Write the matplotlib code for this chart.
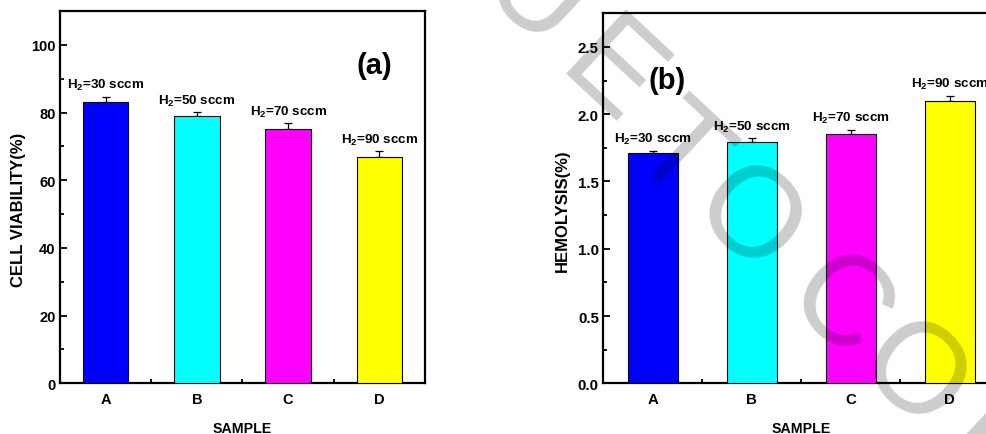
import matplotlib
matplotlib.use("Agg")
import matplotlib.pyplot as plt
from matplotlib.ticker import FixedLocator, MultipleLocator

# ---------------- data ----------------
samples = ["A", "B", "C", "D"]
h2_flow = [30, 50, 70, 90]
viability = [83.0, 79.0, 75.0, 67.0]
viability_err = [1.6, 1.1, 1.8, 1.5]
hemolysis = [1.71, 1.79, 1.85, 2.10]
hemolysis_err = [0.02, 0.03, 0.035, 0.035]
bar_colors = ["#0000FF", "#00FFFF", "#FF00FF", "#FFFF00"]
watermark_letters = ["U", "E", "T", "O", "C", "O", "P"]

# ---------------- fonts ----------------
FONT = "Liberation Sans"
plt.rcParams["font.family"] = [FONT, "DejaVu Sans"]
plt.rcParams["font.weight"] = "bold"
plt.rcParams["mathtext.fontset"] = "custom"
for s in ("rm", "it", "bf", "sf"):
    plt.rcParams["mathtext." + s] = FONT + ":bold"

W, H = 987, 435
fig = plt.figure(figsize=(W / 100, H / 100), dpi=100)
fig.patch.set_facecolor("white")


def make_panel(rect, values, errs, ylim, ymajor, yminor, ylabel, ylabel_xy,
               tag, tag_xy, ann_size, tick_size):
    ax = fig.add_axes(rect)
    x = list(range(1, len(samples) + 1))
    lower = [0] * len(values)
    ax.errorbar(x, values, yerr=[lower, errs], fmt="none", ecolor="black",
                elinewidth=0.9, capsize=2.6, capthick=0.9, zorder=2)
    ax.bar(x, values, width=0.5, color=bar_colors, edgecolor="black",
           linewidth=0.8, zorder=3)
    for xi, v, e, f in zip(x, values, errs, h2_flow):
        ax.annotate("H$_2$=%d sccm" % f, xy=(xi, v + e), xytext=(0, 6.3),
                    textcoords="offset points", ha="center", va="baseline",
                    fontsize=ann_size, fontweight="bold", zorder=4)
    ax.set_xlim(0.5, 4.5)
    ax.set_ylim(*ylim)
    ax.set_xticks(x)
    ax.set_xticklabels(samples)
    ax.xaxis.set_minor_locator(FixedLocator([1.5, 2.5, 3.5, 4.5]))
    ax.yaxis.set_major_locator(MultipleLocator(ymajor))
    ax.yaxis.set_minor_locator(MultipleLocator(yminor))
    ax.tick_params(axis="both", which="both", direction="in",
                   top=False, right=False, width=1.3)
    ax.tick_params(axis="both", which="major", length=5)
    ax.tick_params(axis="both", which="minor", length=3)
    ax.tick_params(axis="x", which="major", pad=6.0, labelsize=tick_size)
    ax.tick_params(axis="y", which="major", pad=3.2, labelsize=tick_size)
    for lab in ax.get_xticklabels() + ax.get_yticklabels():
        lab.set_fontweight("bold")
    for sp in ax.spines.values():
        sp.set_linewidth(1.6)
    ax.set_xlabel("SAMPLE", fontsize=10.2, fontweight="bold")
    ax.xaxis.set_label_coords(0.5, -44.5 / (rect[3] * H))
    ax.xaxis.label.set_va("center")
    ax.set_ylabel(ylabel, fontsize=12, fontweight="bold")
    ax.yaxis.set_label_coords(*ylabel_xy)
    ax.yaxis.label.set_va("center")
    ax.text(tag_xy[0], tag_xy[1], tag, transform=ax.transAxes,
            ha="center", va="center", fontsize=21, fontweight="bold")
    return ax


ax1 = make_panel([60 / W, 1 - 384.3 / H, 365 / W, 372.3 / H],
                 viability, viability_err, (0, 110), 20, 10,
                 "CELL VIABILITY(%)", (-0.114, 0.468),
                 "(a)", (0.862, 0.855), 9.6, 10.5)
ax2 = make_panel([603.3 / W, 1 - 384.3 / H, 396 / W, 370 / H],
                 hemolysis, hemolysis_err, (0, 2.75), 0.5, 0.25,
                 "HEMOLYSIS(%)", (-0.103, 0.468),
                 "(b)", (0.161, 0.819), 9.7, 10.8)
ax2.yaxis.set_major_formatter(plt.FormatStrFormatter("%.1f"))

# ---------------- faint diagonal watermark ----------------
wm_centers = [(540, -8), (617, 68), (686, 146), (755, 214),
              (846, 301), (920, 370), (1000, 448)]
for ch, (px, py) in zip(watermark_letters, wm_centers):
    fig.text(px / W, 1 - py / H, ch, fontsize=92, fontweight="normal",
             family="Liberation Sans", color="black", alpha=0.2,
             rotation=-43, rotation_mode="anchor", ha="center",
             va="center_baseline", zorder=10)

fig.savefig("out.png", dpi=100)
